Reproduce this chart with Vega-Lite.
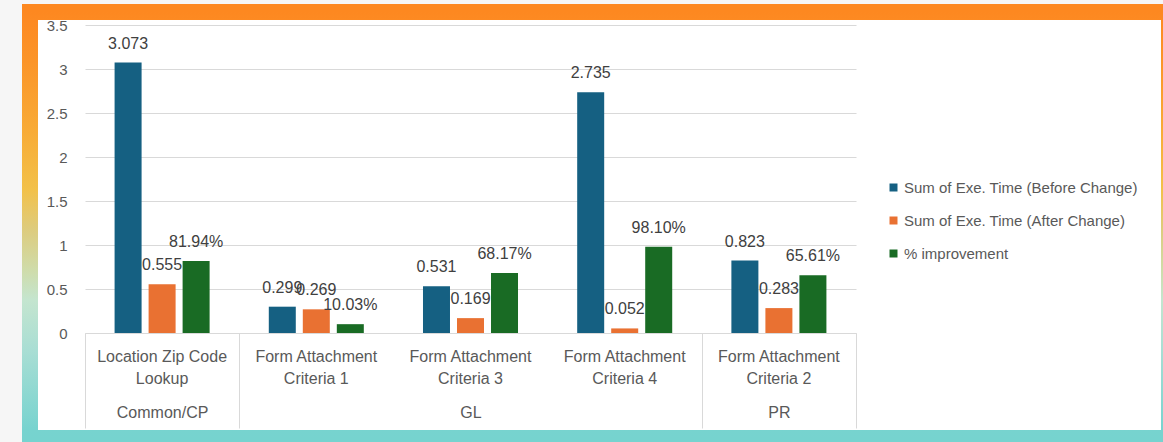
{
  "$schema": "https://vega.github.io/schema/vega-lite/v6.json",
  "background": "#f6f6f6",
  "autosize": {"type": "none"},
  "padding": {"left": 30, "top": 12, "right": -6, "bottom": 4},
  "width": 1139,
  "height": 426,
  "config": {
    "font": "Liberation Sans",
    "axis": {"labelFont": "Liberation Sans", "labelColor": "#595959"},
    "legend": {"labelFont": "Liberation Sans"}
  },
  "view": {
    "fill": "white",
    "strokeWidth": 16,
    "stroke": {
      "gradient": "linear",
      "x1": 0, "y1": 0, "x2": 0, "y2": 1,
      "stops": [
        {"offset": 0, "color": "#fd8820"},
        {"offset": 0.02, "color": "#fd8a22"},
        {"offset": 0.113, "color": "#fb9428"},
        {"offset": 0.277, "color": "#f8ab36"},
        {"offset": 0.418, "color": "#f2c14a"},
        {"offset": 0.512, "color": "#ddcc7e"},
        {"offset": 0.606, "color": "#cfdcaa"},
        {"offset": 0.676, "color": "#c4e5cf"},
        {"offset": 0.793, "color": "#a9ded4"},
        {"offset": 0.98, "color": "#77d3cf"},
        {"offset": 1, "color": "#76d3cf"}
      ]
    }
  },
  "data": {
    "values": [
      {"cat": "Location Zip Code Lookup", "group": "Common/CP", "series": "Sum of Exe. Time (Before Change)", "value": 3.073},
      {"cat": "Location Zip Code Lookup", "group": "Common/CP", "series": "Sum of Exe. Time (After Change)", "value": 0.555},
      {"cat": "Location Zip Code Lookup", "group": "Common/CP", "series": "% improvement", "value": 0.8194},
      {"cat": "Form Attachment Criteria 1", "group": "GL", "series": "Sum of Exe. Time (Before Change)", "value": 0.299},
      {"cat": "Form Attachment Criteria 1", "group": "GL", "series": "Sum of Exe. Time (After Change)", "value": 0.269},
      {"cat": "Form Attachment Criteria 1", "group": "GL", "series": "% improvement", "value": 0.1003},
      {"cat": "Form Attachment Criteria 3", "group": "GL", "series": "Sum of Exe. Time (Before Change)", "value": 0.531},
      {"cat": "Form Attachment Criteria 3", "group": "GL", "series": "Sum of Exe. Time (After Change)", "value": 0.169},
      {"cat": "Form Attachment Criteria 3", "group": "GL", "series": "% improvement", "value": 0.6817},
      {"cat": "Form Attachment Criteria 4", "group": "GL", "series": "Sum of Exe. Time (Before Change)", "value": 2.735},
      {"cat": "Form Attachment Criteria 4", "group": "GL", "series": "Sum of Exe. Time (After Change)", "value": 0.052},
      {"cat": "Form Attachment Criteria 4", "group": "GL", "series": "% improvement", "value": 0.981},
      {"cat": "Form Attachment Criteria 2", "group": "PR", "series": "Sum of Exe. Time (Before Change)", "value": 0.823},
      {"cat": "Form Attachment Criteria 2", "group": "PR", "series": "Sum of Exe. Time (After Change)", "value": 0.283},
      {"cat": "Form Attachment Criteria 2", "group": "PR", "series": "% improvement", "value": 0.6561}
    ]
  },
  "layer": [
    {
      "encoding": {
        "x": {
          "field": "cat",
          "type": "nominal",
          "sort": ["Location Zip Code Lookup", "Form Attachment Criteria 1", "Form Attachment Criteria 3", "Form Attachment Criteria 4", "Form Attachment Criteria 2"],
          "scale": {"paddingInner": 0, "paddingOuter": 0, "range": [55, 826]},
          "title": null,
          "axis": {
            "orient": "bottom",
            "offset": -105,
            "labelAngle": 0,
            "ticks": false,
            "domain": true,
            "domainColor": "#d9d9d9",
            "domainWidth": 1,
            "grid": false,
            "labelFontSize": 16,
            "labelPadding": 15,
            "labelLineHeight": 22,
            "labelBaseline": "top",
            "labelLimit": 300,
            "labelExpr": "datum.label === 'Location Zip Code Lookup' ? ['Location Zip Code', 'Lookup'] : ['Form Attachment', replace(datum.label, 'Form Attachment ', '')]"
          }
        },
        "xOffset": {
          "field": "series",
          "type": "nominal",
          "sort": ["Sum of Exe. Time (Before Change)", "Sum of Exe. Time (After Change)", "% improvement"],
          "scale": {"paddingInner": 0.206, "paddingOuter": 0.87}
        },
        "y": {
          "field": "value",
          "type": "quantitative",
          "scale": {"domain": [0, 3.5], "nice": false, "range": [321, 13]},
          "title": null,
          "axis": {
            "offset": -55,
            "values": [0, 0.5, 1, 1.5, 2, 2.5, 3, 3.5],
            "format": "~g",
            "domain": false,
            "ticks": false,
            "grid": true,
            "gridColor": "#d9d9d9",
            "gridWidth": 1,
            "labelFontSize": 15,
            "labelPadding": 18
          }
        }
      },
      "layer": [
        {
          "mark": {"type": "bar"},
          "encoding": {
            "color": {
              "field": "series",
              "type": "nominal",
              "scale": {
                "domain": ["Sum of Exe. Time (Before Change)", "Sum of Exe. Time (After Change)", "% improvement"],
                "range": ["#156082", "#e97132", "#196b24"]
              },
              "legend": {
                "title": null,
                "orient": "none",
                "legendX": 856,
                "legendY": 168,
                "symbolType": "square",
                "symbolSize": 64,
                "symbolStrokeWidth": 0,
                "labelFontSize": 15,
                "labelColor": "#595959",
                "labelLimit": 320,
                "labelOffset": 3,
                "rowPadding": 17
              }
            }
          }
        },
        {
          "mark": {"type": "text", "baseline": "middle", "dy": -19, "fontSize": 16, "color": "#404040"},
          "encoding": {
            "text": {
              "condition": {"test": "datum.series === '% improvement'", "field": "value", "type": "quantitative", "format": ".2%"},
              "field": "value",
              "type": "quantitative",
              "format": ".3f"
            }
          }
        }
      ]
    },
    {
      "mark": {"type": "text", "text": ""},
      "encoding": {
        "x": {
          "datum": 0,
          "type": "quantitative",
          "scale": {"domain": [0, 5], "nice": false, "zero": false, "range": [55, 826]},
          "title": null,
          "axis": {
            "orient": "bottom",
            "offset": -105,
            "values": [0, 0.5, 1, 2.5, 4, 4.5, 5],
            "domain": false,
            "grid": false,
            "ticks": true,
            "tickSize": 95,
            "tickColor": "#d9d9d9",
            "tickWidth": 1,
            "tickOpacity": {"condition": {"test": "datum.value % 1 !== 0", "value": 0}, "value": 1},
            "labelExpr": "datum.value === 0.5 ? 'Common/CP' : datum.value === 2.5 ? 'GL' : datum.value === 4.5 ? 'PR' : ''",
            "labelFontSize": 16,
            "labelPadding": -24,
            "labelBaseline": "top",
            "labelFlush": false,
            "labelOverlap": false,
            "labelBound": false
          }
        }
      }
    }
  ],
  "resolve": {"scale": {"x": "independent"}}
}
